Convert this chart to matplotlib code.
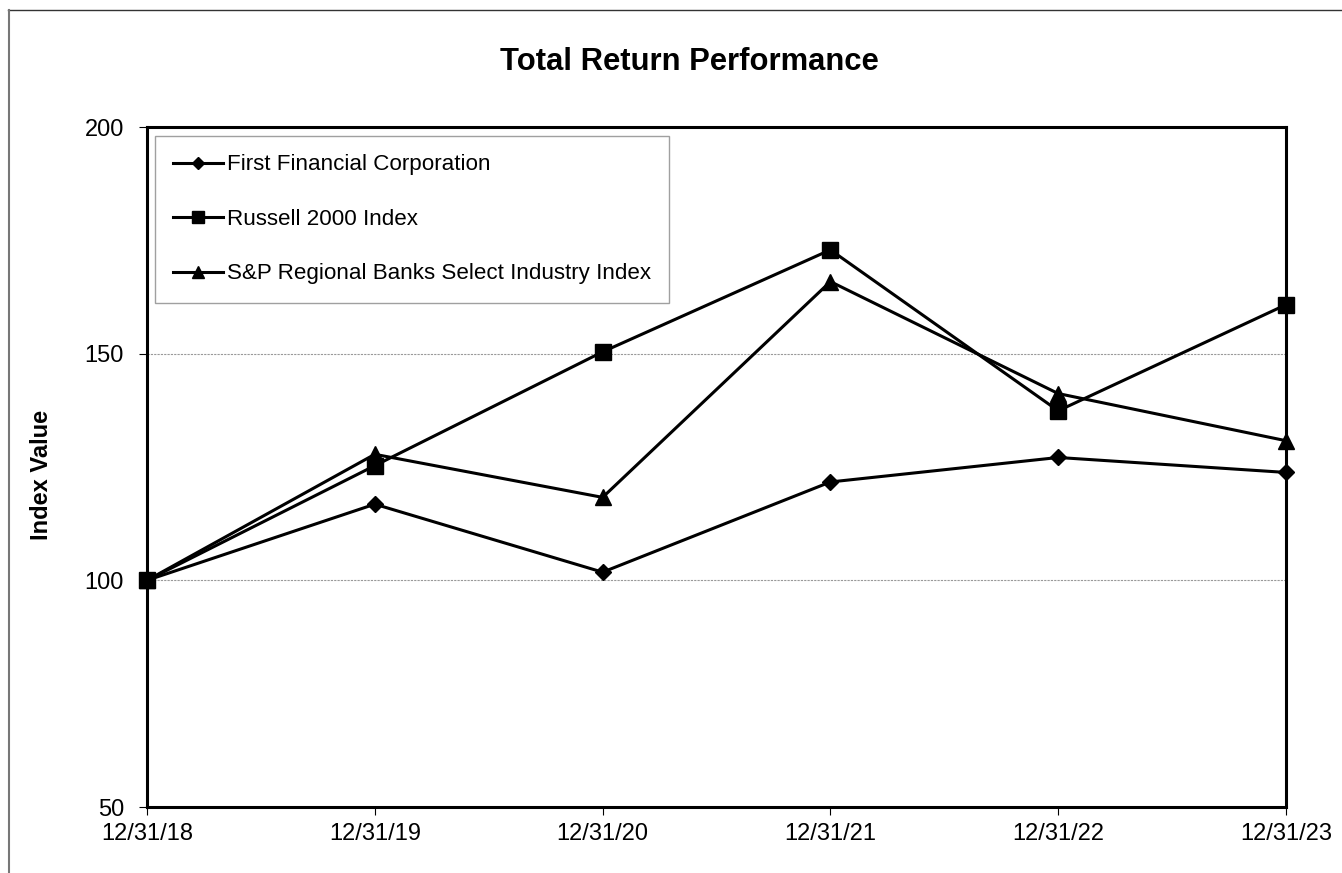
import matplotlib.pyplot as plt
from matplotlib.lines import Line2D

plt.rcParams['font.family'] = ['Liberation Sans', 'DejaVu Sans']

# 数据
dates = ["12/31/18", "12/31/19", "12/31/20", "12/31/21", "12/31/22", "12/31/23"]
first_financial = [100, 116.8, 101.8, 121.7, 127.1, 123.8]
russell_2000 = [100, 125.3, 150.4, 172.9, 137.4, 160.8]
sp_regional_banks = [100, 127.8, 118.3, 165.9, 141.2, 130.8]

W, H = 1342, 873
fig = plt.figure(figsize=(W / 100, H / 100), dpi=100)
ax = fig.add_axes([147 / W, 1 - 807 / H, (1286 - 147) / W, (807 - 127) / H])

x = range(len(dates))
ax.plot(x, first_financial, color="black", lw=2.2, marker="D", ms=8.5,
        clip_on=False, zorder=3, label="First Financial Corporation")
ax.plot(x, russell_2000, color="black", lw=2.2, marker="s", ms=12,
        clip_on=False, zorder=3, label="Russell 2000 Index")
ax.plot(x, sp_regional_banks, color="black", lw=2.2, marker="^", ms=12,
        clip_on=False, zorder=3, label="S&P Regional Banks Select Industry Index")

ax.set_xlim(0, len(dates) - 1)
ax.set_ylim(50, 200)
ax.set_xticks(list(x))
ax.set_xticklabels(dates)
ax.set_yticks([50, 100, 150, 200])
ax.tick_params(labelsize=17, direction="out", length=5.5, width=0.8)
ax.tick_params(axis="x", pad=6)
ax.tick_params(axis="y", pad=11)

# 网格线只在 100 和 150
for v in [100, 150]:
    ax.axhline(v, color="#999999", lw=0.8, ls=(0, (2, 1)), zorder=0)

for s in ax.spines.values():
    s.set_linewidth(2.2)
    s.set_color("black")

ax.set_ylabel("Index Value", fontsize=17, fontweight="bold", va="center")
ax.yaxis.set_label_coords((41 - 147) / (1286 - 147), (807 - 475) / (807 - 127))
fig.text(689 / W, 1 - 62 / H, "Total Return Performance",
         ha="center", va="center", fontsize=22.3, fontweight="bold")

leg = ax.legend(loc="upper left", bbox_to_anchor=(8 / 1139, (807 - 136) / 680),
                fontsize=16.1, frameon=True, fancybox=False, borderpad=0.82,
                labelspacing=1.5, handlelength=2.2, handletextpad=0.18,
                borderaxespad=0)
leg.get_frame().set_edgecolor("#888888")
leg.get_frame().set_linewidth(1)
for h in leg.legend_handles:
    h.set_markersize(h.get_markersize() * 0.75)

# 外框 (上边和左边)
fig.add_artist(Line2D([8 / W, 1.0], [1 - 10 / H, 1 - 10 / H],
                      transform=fig.transFigure, color="#333333", lw=1))
fig.add_artist(Line2D([9 / W, 9 / W], [0.0, 1 - 10 / H],
                      transform=fig.transFigure, color="#777777", lw=1.5))

fig.savefig("out.png", dpi=100)
